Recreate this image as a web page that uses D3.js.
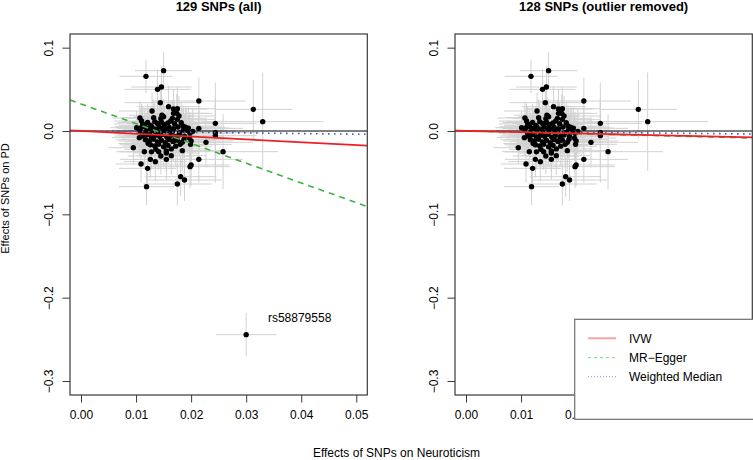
<!DOCTYPE html>
<html><head><meta charset="utf-8">
<script src="https://cdn.jsdelivr.net/npm/d3@7/dist/d3.min.js"></script>
<style>
body{margin:0;background:#fff}
svg{display:block}
text{font-family:"Liberation Sans",Arial,Helvetica,sans-serif;fill:#000}
</style></head>
<body><svg id="c" width="753" height="460"></svg>
<script>
// SNP effects: [beta on Neuroticism, beta on PD, half-width x bar, half-height y bar]
const snps = [
[0.0118,0.0656,0.0048,0.020],[0.0150,0.0724,0.0052,0.022],[0.0139,0.0500,0.0060,0.024],
[0.0146,0.0528,0.0055,0.025],[0.0144,0.0340,0.0065,0.022],[0.0214,0.0360,0.0085,0.028],
[0.0313,0.0260,0.0070,0.035],[0.0330,0.0112,0.0110,0.059],[0.0244,0.0092,0.0075,0.030],
[0.0107,0.0156,0.0050,0.020],[0.0129,0.0240,0.0060,0.022],[0.0159,0.0292,0.0058,0.025],
[0.0168,0.0264,0.0062,0.024],[0.0175,0.0268,0.0070,0.026],[0.0168,0.0212,0.0060,0.022],
[0.0174,0.0212,0.0065,0.023],[0.0150,0.0172,0.0055,0.021],[0.0166,0.0152,0.0060,0.022],
[0.0182,0.0100,0.0068,0.024],[0.0214,0.0032,0.0080,0.027],[0.0244,-0.0020,0.0080,0.060],
[0.0244,-0.0056,0.0075,0.040],[0.0095,-0.0200,0.0045,0.020],[0.0115,-0.0248,0.0050,0.021],
[0.0109,-0.0396,0.0046,0.022],[0.0121,-0.0448,0.0052,0.024],[0.0119,-0.0668,0.0050,0.022],
[0.0126,-0.0340,0.0055,0.022],[0.0135,-0.0368,0.0058,0.023],[0.0155,-0.0340,0.0060,0.024],
[0.0164,-0.0296,0.0062,0.023],[0.0184,-0.0236,0.0070,0.025],[0.0199,-0.0160,0.0075,0.026],
[0.0214,-0.0340,0.0080,0.028],[0.0198,-0.0428,0.0072,0.026],[0.0200,-0.0408,0.0070,0.025],
[0.0181,-0.0548,0.0065,0.024],[0.0188,-0.0588,0.0068,0.025],[0.0175,-0.0636,0.0062,0.026],
[0.0141,-0.0248,0.0058,0.022],[0.0155,-0.0264,0.0060,0.023],[0.0258,-0.0248,0.0100,0.045],
[0.0227,-0.0136,0.0085,0.030],
[0.0112,0.0085,0.0052,0.021],[0.0121,0.0102,0.0055,0.022],[0.0127,0.0068,0.0058,0.023],
[0.0134,0.0112,0.0060,0.022],[0.0139,0.0090,0.0056,0.024],[0.0146,0.0105,0.0062,0.023],
[0.0152,0.0078,0.0060,0.022],[0.0158,0.0098,0.0064,0.024],[0.0163,0.0120,0.0066,0.023],
[0.0170,0.0088,0.0068,0.025],
[0.0109,0.0040,0.0050,0.021],[0.0116,0.0052,0.0054,0.022],[0.0122,0.0030,0.0056,0.021],
[0.0129,0.0045,0.0058,0.023],[0.0136,0.0022,0.0060,0.022],[0.0142,0.0050,0.0062,0.024],
[0.0148,0.0035,0.0060,0.023],[0.0155,0.0018,0.0064,0.022],[0.0160,0.0042,0.0062,0.024],
[0.0168,0.0028,0.0066,0.023],[0.0176,0.0048,0.0068,0.025],[0.0186,0.0010,0.0072,0.026],
[0.0118,-0.0005,0.0054,0.022],[0.0125,-0.0012,0.0056,0.023],[0.0131,0.0005,0.0058,0.021],
[0.0140,-0.0008,0.0060,0.022],[0.0150,-0.0015,0.0062,0.024],[0.0157,0.0002,0.0064,0.023],
[0.0166,-0.0010,0.0066,0.022],[0.0179,-0.0020,0.0070,0.025],[0.0192,0.0008,0.0074,0.026],
[0.0203,-0.0004,0.0078,0.027],
[0.0113,-0.0060,0.0052,0.022],[0.0120,-0.0045,0.0054,0.021],[0.0128,-0.0070,0.0056,0.023],
[0.0135,-0.0052,0.0058,0.022],[0.0143,-0.0065,0.0060,0.024],[0.0149,-0.0040,0.0062,0.023],
[0.0156,-0.0075,0.0062,0.022],[0.0162,-0.0055,0.0064,0.024],[0.0171,-0.0068,0.0066,0.023],
[0.0178,-0.0048,0.0068,0.025],[0.0188,-0.0062,0.0072,0.026],[0.0197,-0.0085,0.0076,0.027],
[0.0117,-0.0105,0.0054,0.022],[0.0124,-0.0120,0.0056,0.023],[0.0132,-0.0098,0.0058,0.022],
[0.0139,-0.0130,0.0060,0.024],[0.0146,-0.0112,0.0060,0.023],[0.0153,-0.0140,0.0062,0.022],
[0.0160,-0.0102,0.0064,0.024],[0.0167,-0.0125,0.0066,0.023],[0.0175,-0.0110,0.0068,0.025],
[0.0184,-0.0135,0.0070,0.026],
[0.0126,-0.0165,0.0056,0.022],[0.0134,-0.0180,0.0058,0.023],[0.0141,-0.0158,0.0060,0.022],
[0.0150,-0.0190,0.0062,0.024],[0.0158,-0.0172,0.0064,0.023],[0.0172,-0.0182,0.0066,0.024],
[0.0180,-0.0160,0.0068,0.025],
[0.0106,0.0008,0.0050,0.020],[0.0112,-0.0028,0.0052,0.021],[0.0145,0.0148,0.0060,0.023],
[0.0132,0.0160,0.0058,0.022],[0.0175,0.0140,0.0068,0.024],[0.0195,0.0035,0.0074,0.026],
[0.0187,-0.0100,0.0072,0.025],[0.0136,-0.0220,0.0058,0.022],[0.0164,-0.0215,0.0064,0.023],
[0.0101,0.0040,0.0048,0.020],[0.0198,-0.0028,0.0076,0.026],
[0.0110,0.0120,0.0050,0.021],[0.0147,0.0190,0.0060,0.022],[0.0178,0.0180,0.0068,0.024],
[0.0190,0.0045,0.0072,0.025],[0.0122,-0.0150,0.0054,0.022],[0.0155,-0.0240,0.0062,0.023],
[0.0145,-0.0300,0.0060,0.022],[0.0128,-0.0250,0.0056,0.021],[0.0168,-0.0120,0.0066,0.024],
[0.0200,-0.0120,0.0076,0.026],[0.0106,-0.0080,0.0050,0.021],[0.0185,0.0060,0.0070,0.025]
];
const outlier = [0.0300,-0.2444,0.0055,0.026];
const outlierId = "rs58879558";

const xTicks = [0, 0.01, 0.02, 0.03, 0.04, 0.05];
const yTicks = [0.1, 0, -0.1, -0.2, -0.3];
const xDomain = [-0.002, 0.052];
const yDomain = [-0.3168, 0.1164];

const methods = ["IVW", "MR\u2212Egger", "Weighted Median"];
// fitted lines: [intercept, slope]
const fitAll = [[0, -0.338], [0.0325, -2.37], [0, -0.077]];
const fitRemoved = [[0, -0.146], [0.0002, -0.165], [0, -0.069]];

const titles = ["129 SNPs (all)", "128 SNPs (outlier removed)"];

const lineStyle = [
  {col:"#ee2026", w:1.8, dash:null, lcol:"#f7a3a6", lw:2, ldash:null},
  {col:"#3db33d", w:1.6, dash:"6,5", lcol:"#7fd77f", lw:1, ldash:"3,3"},
  {col:"#4a5ac0", w:1.6, dash:"1.6,4.4", lcol:"#8c96dc", lw:1, ldash:"1,2"}
];

const FONT = '"Liberation Sans",Arial,sans-serif';
const svg = d3.select("#c");
const fmtY = v => (v < 0 ? "\u2212" : "") + Math.abs(v).toFixed(1);
const fmtX = v => v.toFixed(2);

const panelDefs = [
  {left:70, right:367.3, data: snps.concat([outlier]), fits: fitAll, title: titles[0], showOutlier:true, legend:false},
  {left:455, right:752.3, data: snps, fits: fitRemoved, title: titles[1], showOutlier:false, legend:true}
];
const plotTop = 34, plotBottom = 395;

panelDefs.forEach((p, i) => {
  const x = d3.scaleLinear().domain(xDomain).range([p.left, p.right]);
  const y = d3.scaleLinear().domain(yDomain).range([plotBottom, plotTop]);
  const g = svg.append("g");
  const cid = "clip" + i;
  svg.append("clipPath").attr("id", cid).append("rect")
    .attr("x", p.left).attr("y", plotTop).attr("width", p.right - p.left).attr("height", plotBottom - plotTop);
  const plot = g.append("g").attr("clip-path", `url(#${cid})`);

  const eb = plot.append("g").attr("stroke", "#d2d2d2").attr("stroke-width", 1);
  p.data.forEach(d => {
    eb.append("line").attr("x1", x(d[0]-d[2])).attr("x2", x(d[0]+d[2])).attr("y1", y(d[1])).attr("y2", y(d[1]));
    eb.append("line").attr("x1", x(d[0])).attr("x2", x(d[0])).attr("y1", y(d[1]-d[3])).attr("y2", y(d[1]+d[3]));
  });
  plot.append("g").selectAll("circle").data(p.data).join("circle")
    .attr("cx", d => x(d[0])).attr("cy", d => y(d[1])).attr("r", 2.7).attr("fill", "#000");

  plot.append("line").attr("x1", p.left).attr("x2", p.right).attr("y1", y(0)).attr("y2", y(0))
    .attr("stroke", "#000").attr("stroke-width", 1);

  [2, 1, 0].forEach(k => {
    const [a, b] = p.fits[k];
    const s = lineStyle[k];
    const ln = plot.append("line")
      .attr("x1", x(xDomain[0])).attr("y1", y(a + b * xDomain[0]))
      .attr("x2", x(xDomain[1])).attr("y2", y(a + b * xDomain[1]))
      .attr("stroke", s.col).attr("stroke-width", s.w);
    if (s.dash) ln.attr("stroke-dasharray", s.dash);
  });

  if (p.showOutlier) {
    plot.append("text").attr("x", x(0.03395)).attr("y", y(-0.2244)).attr("dy", "0.35em")
      .attr("font-size", 12).text(outlierId);
  }

  if (p.legend) {
    const lg = svg.append("g");
    lg.append("rect").attr("x", 574.7).attr("y", 319.3).attr("width", 200).attr("height", 100)
      .attr("fill", "#fff").attr("stroke", "#6e6e6e").attr("stroke-width", 1.2);
    const ys = [338.3, 357.7, 376.7];
    methods.forEach((m, k) => {
      const s = lineStyle[k];
      const l = lg.append("line").attr("x1", 588).attr("x2", 616).attr("y1", ys[k]).attr("y2", ys[k])
        .attr("stroke", s.lcol).attr("stroke-width", s.lw);
      if (s.ldash) l.attr("stroke-dasharray", s.ldash);
      lg.append("text").attr("x", 629).attr("y", ys[k]).attr("dy", "0.35em").attr("font-size", 12).text(m);
    });
  }

  g.append("rect").attr("x", p.left).attr("y", plotTop).attr("width", p.right - p.left).attr("height", plotBottom - plotTop)
    .attr("fill", "none").attr("stroke", "#3a3a3a").attr("stroke-width", 1.2);

  const xa = g.append("g").attr("transform", `translate(0,${plotBottom})`)
    .call(d3.axisBottom(x).tickValues(xTicks).tickFormat(fmtX).tickSize(7.5).tickPadding(7.5));
  xa.select(".domain").remove();
  xa.selectAll("line").attr("stroke", "#3a3a3a");
  xa.selectAll("text").attr("font-size", 12).attr("font-family", FONT);

  const ya = g.append("g").attr("transform", `translate(${p.left},0)`)
    .call(d3.axisLeft(y).tickValues(yTicks).tickFormat(fmtY).tickSize(7.5));
  ya.select(".domain").remove();
  ya.selectAll("line").attr("stroke", "#3a3a3a");
  ya.selectAll("text")
    .attr("font-size", 12).attr("font-family", FONT)
    .attr("x", null).attr("dy", null)
    .attr("text-anchor", "middle")
    .attr("transform", "translate(-17,0) rotate(-90)");

  svg.append("text").attr("x", (p.left + p.right) / 2).attr("y", 11)
    .attr("text-anchor", "middle").attr("font-size", 13).attr("font-weight", "bold").text(p.title);
});

svg.append("text").attr("x", 396.5).attr("y", 456.5).attr("text-anchor", "middle")
  .attr("font-size", 12).text("Effects of SNPs on Neuroticism");
svg.append("text").attr("transform", "translate(9,198.5) rotate(-90)").attr("text-anchor", "middle")
  .attr("font-size", 11).text("Effects of SNPs on PD");
</script></body></html>
